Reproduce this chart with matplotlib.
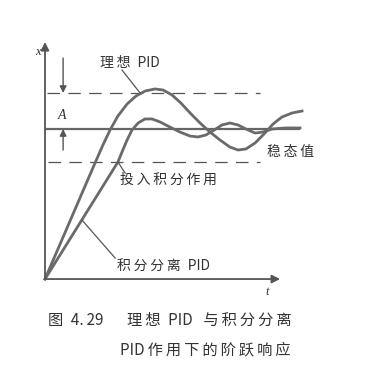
import matplotlib
matplotlib.use("Agg")
import matplotlib.pyplot as plt

plt.rcParams['font.family'] = ['Noto Sans CJK SC', 'DejaVu Sans']
plt.rcParams['lines.scale_dashes'] = False

# Step response: ideal PID (large overshoot) and PID with integral separation
t_ideal = [0, 1.96, 2.27, 2.55, 2.86, 3.22, 3.57, 3.92, 4.31, 4.63, 4.98, 5.33,
           5.69, 6.08, 6.47, 6.86, 7.25, 7.57, 7.88, 8.24, 8.59, 8.94, 9.29, 9.69, 10.08]
x_ideal = [0, 0.773, 0.893, 0.993, 1.087, 1.167, 1.22, 1.253, 1.267, 1.26, 1.227, 1.173,
           1.107, 1.04, 0.98, 0.927, 0.88, 0.86, 0.867, 0.907, 0.967, 1.033, 1.08, 1.107, 1.12]

t_sep = [0, 2.86, 3.02, 3.22, 3.41, 3.65, 3.92, 4.20, 4.51, 4.90, 5.29, 5.69, 6.0,
         6.31, 6.63, 6.94, 7.25, 7.57, 7.88, 8.24, 8.55, 8.90, 9.41, 10.0]
x_sep = [0, 0.78, 0.847, 0.927, 0.993, 1.04, 1.067, 1.067, 1.047, 1.013, 0.98, 0.953, 0.947,
         0.96, 0.993, 1.027, 1.04, 1.027, 1.0, 0.973, 0.98, 1.0, 1.007, 1.007]

steady = 1.0
band_hi = 1.24
band_lo = 0.78

TS = '\u2009'  # thin space for letter spacing
GAP = '\u2002'  # en space before the Latin part


def spaced(s):
    return TS.join(s)


fig = plt.figure(figsize=(3.71, 3.77), dpi=100)
ax = fig.add_axes([0, 0, 1, 1])
ax.set_xlim(-1.765, 12.784)
ax.set_ylim(-0.653, 1.86)
ax.axis('off')

curve_c = '#6a6a6a'
ink = '#333333'

# axes with arrows
ax.annotate('', xy=(0, 1.58), xytext=(0, 0),
            arrowprops=dict(arrowstyle='-|>', color='#555555', lw=1.3,
                            mutation_scale=12, shrinkA=0, shrinkB=0))
ax.annotate('', xy=(9.22, 0), xytext=(0, 0),
            arrowprops=dict(arrowstyle='-|>', color='#555555', lw=1.3,
                            mutation_scale=12, shrinkA=0, shrinkB=0))
ax.text(-0.27, 1.513, 'x', family='Liberation Serif', style='italic',
        fontsize=9, color=ink, ha='center', va='center')
ax.text(8.7, -0.087, 't', family='Liberation Serif', style='italic',
        fontsize=9, color=ink, ha='center', va='center')

# steady-state value and tolerance band
ax.plot([0, 10.0], [steady, steady], color='#666666', lw=1.6, solid_capstyle='butt')
ax.plot([0.08, 8.43], [band_hi, band_hi], color='#555555', lw=0.9,
        linestyle=(0, (9, 6)))
ax.plot([0.12, 8.43], [band_lo, band_lo], color='#555555', lw=0.9,
        linestyle=(0, (9, 6)))

# dimension A between steady line and upper band
ax.annotate('', xy=(0.71, band_hi), xytext=(0.71, 1.473),
            arrowprops=dict(arrowstyle='-|>', color='#555555', lw=1.0,
                            mutation_scale=10, shrinkA=0, shrinkB=0))
ax.annotate('', xy=(0.71, steady), xytext=(0.71, 0.86),
            arrowprops=dict(arrowstyle='-|>', color='#555555', lw=1.0,
                            mutation_scale=10, shrinkA=0, shrinkB=0))
ax.text(0.67, 1.093, 'A', family='Liberation Serif', style='italic',
        fontsize=10, color=ink, ha='center', va='center')

# response curves
ax.plot(t_ideal, x_ideal, color=curve_c, lw=2.0, solid_joinstyle='round')
ax.plot(t_sep, x_sep, color=curve_c, lw=2.0, solid_joinstyle='round')

# labels with leader lines
lab_fs = 10
ax.text(2.16, 1.44, spaced('理想') + GAP + 'PID', fontsize=lab_fs, color=ink,
        ha='left', va='center')
ax.plot([3.02, 3.73], [1.393, 1.24], color='#555555', lw=0.9)

ax.text(8.71, 0.847, spaced('稳态值'), fontsize=lab_fs, color=ink, ha='left', va='center')

ax.text(2.94, 0.66, spaced('投入积分作用'), fontsize=lab_fs, color=ink,
        ha='left', va='center')
ax.plot([2.86, 3.14], [0.78, 0.707], color='#555555', lw=0.9)

ax.text(2.82, 0.08, spaced('积分分离') + GAP + 'PID', fontsize=lab_fs, color=ink,
        ha='left', va='center')
ax.plot([1.45, 2.75], [0.393, 0.14], color='#555555', lw=0.9)

# caption
cap_fs = 11
fig.text(48 / 371, 1 - 320 / 377, '图' + GAP + '4.' + TS + '29', fontsize=cap_fs, color=ink,
         ha='left', va='center')
fig.text(127 / 371, 1 - 320 / 377,
         spaced('理想') + GAP + 'PID' + GAP + TS + spaced('与积分分离'),
         fontsize=cap_fs, color=ink, ha='left', va='center')
fig.text(120 / 371, 1 - 350 / 377, 'PID' + TS + spaced('作用下的阶跃响应'), fontsize=cap_fs,
         color=ink, ha='left', va='center')

fig.savefig('out.png', dpi=100, facecolor='white')
